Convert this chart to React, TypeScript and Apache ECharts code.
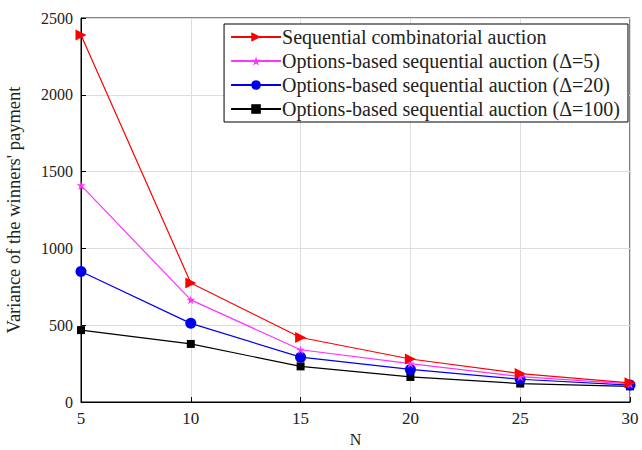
import React, { useEffect, useRef } from "react";
import * as echarts from "echarts";

const nValues = [5, 10, 15, 20, 25, 30];
const seqComb = [2390, 775, 420, 280, 185, 125];
const opt5 = [1410, 665, 340, 250, 165, 118];
const opt20 = [850, 512, 292, 212, 148, 110];
const opt100 = [468, 378, 232, 163, 120, 102];
const seriesNames = [
  "Sequential combinatorial auction",
  "Options-based sequential auction (\u0394=5)",
  "Options-based sequential auction (\u0394=20)",
  "Options-based sequential auction (\u0394=100)",
];

const starPath =
  "path://M50,0 L60,38 L100,38 L68,60 L80,100 L50,76 L20,100 L32,60 L0,38 L40,38 Z";

export default function App() {
  const ref = useRef<HTMLDivElement>(null);
  useEffect(() => {
    if (!ref.current) return;
    const chart = echarts.init(ref.current, null, { renderer: "svg" });
    const font = "Liberation Serif";
    const mk = (vals: number[]) => nValues.map((n, i) => [n, vals[i]]);
    chart.setOption({
      animation: false,
      backgroundColor: "#fff",
      textStyle: { fontFamily: font },
      grid: {
        left: 81,
        right: 12,
        top: 18,
        bottom: 48,
        show: true,
        borderColor: "#000",
        borderWidth: 1,
        backgroundColor: "#fff",
        containLabel: false,
        outerBoundsMode: "none",
      },
      legend: {
        orient: "vertical",
        right: 14,
        top: 24,
        backgroundColor: "#fff",
        borderColor: "#000",
        borderWidth: 1,
        padding: [3, 8, 3, 6],
        itemGap: 4,
        itemWidth: 50,
        itemHeight: 12,
        textStyle: { fontFamily: font, fontSize: 20, color: "#222", padding: [0, 0, 0, -4] },
        data: seriesNames,
      },
      xAxis: {
        type: "value",
        min: 5,
        max: 30,
        interval: 5,
        name: "N",
        nameLocation: "middle",
        nameGap: 28,
        nameTextStyle: { fontFamily: font, fontSize: 16, color: "#222" },
        axisLine: { lineStyle: { color: "#000" } },
        axisTick: { inside: true, lineStyle: { color: "#000" } },
        axisLabel: { fontFamily: font, fontSize: 17, color: "#222", margin: 8 },
        splitLine: { show: true, lineStyle: { color: "#ddd" } },
      },
      yAxis: {
        type: "value",
        min: 0,
        max: 2500,
        interval: 500,
        name: "Variance of the winners' payment",
        nameLocation: "middle",
        nameGap: 58,
        nameTextStyle: { fontFamily: font, fontSize: 18.5, color: "#222" },
        axisLine: { lineStyle: { color: "#000" } },
        axisTick: { inside: true, lineStyle: { color: "#000" } },
        axisLabel: {
          fontFamily: font,
          fontSize: 16,
          color: "#222",
          margin: 8,
          formatter: (v: number) => String(v),
        },
        splitLine: { show: true, lineStyle: { color: "#ddd" } },
      },
      series: [
        {
          name: seriesNames[0],
          type: "line",
          data: mk(seqComb),
          color: "#f00",
          symbol: "triangle",
          symbolRotate: -90,
          symbolSize: 11,
          lineStyle: { width: 1.2 },
          z: 4,
        },
        {
          name: seriesNames[1],
          type: "line",
          data: mk(opt5),
          color: "#ff33ff",
          symbol: starPath,
          symbolSize: 9,
          lineStyle: { width: 1.2 },
          z: 3,
        },
        {
          name: seriesNames[2],
          type: "line",
          data: mk(opt20),
          color: "#0000ee",
          symbol: "circle",
          symbolSize: 11,
          lineStyle: { width: 1.2 },
          z: 2,
        },
        {
          name: seriesNames[3],
          type: "line",
          data: mk(opt100),
          color: "#000",
          symbol: "rect",
          symbolSize: 8,
          lineStyle: { width: 1.2 },
          z: 1,
        },
      ],
    });
    return () => chart.dispose();
  }, []);
  return (
    <div
      ref={ref}
      style={{ position: "fixed", left: 0, top: 0, width: 642, height: 450 }}
    />
  );
}
